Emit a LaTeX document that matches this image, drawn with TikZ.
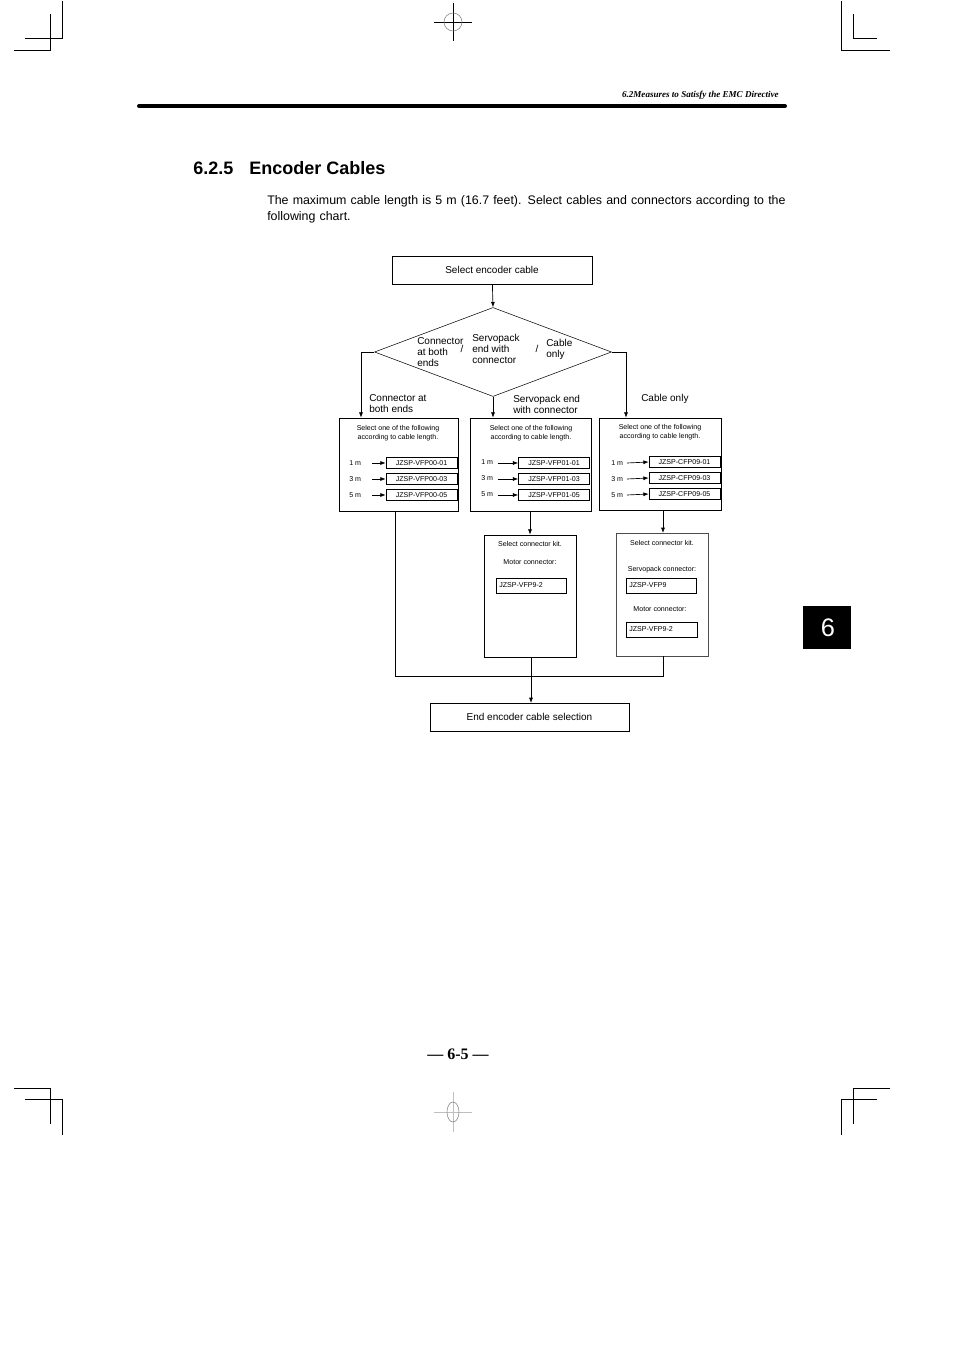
\documentclass[tikz,border=0pt]{standalone}
\usepackage{fontspec}
\setmainfont{Liberation Serif}
\newfontfamily\helv{Liberation Sans}
\usetikzlibrary{positioning,shapes.geometric,arrows.meta}
\begin{document}
\begin{tikzpicture}[
        x=0.75pt, y=-0.75pt,
        box/.style={rectangle, draw, inner sep=0pt, font=\helv\fontsize{7.5}{9}\selectfont},
        part/.style={rectangle, draw, inner sep=0pt, minimum width=71*0.75pt, minimum height=11*0.75pt, font=\helv\fontsize{5.3}{6}\selectfont},
        small/.style={inner sep=0pt, align=center, font=\helv\fontsize{5.3}{7}\selectfont},
        lbl/.style={inner sep=0pt, align=left, font=\helv\fontsize{7.5}{8.3}\selectfont},
        arrow/.style={-{Latex[length=4pt,width=3pt]}, line width=0.5pt},
        crop/.style={line width=0.6pt}
    ]
    \useasboundingbox (0,0) rectangle (954,1351);

    % Crop marks
    \draw[crop] (62,1) -- (62,38) -- (25,38);
    \draw[crop] (50,14) -- (50,50) -- (14,50);
    \draw[crop] (841,1) -- (841,50) -- (890,50);
    \draw[crop] (853,14) -- (853,38) -- (877,38);
    \draw[crop] (14,1088) -- (50,1088) -- (50,1124);
    \draw[crop] (25,1099) -- (62,1099) -- (62,1135);
    \draw[crop] (890,1088) -- (853,1088) -- (853,1124);
    \draw[crop] (877,1099) -- (841,1099) -- (841,1135);
    \draw[crop] (434,22) -- (472,22) (453,3) -- (453,41);
    \draw[gray, line width=0.4pt] (453,22) circle[radius=9];
    \draw[gray!50, line width=0.5pt] (434,1112) -- (472,1112) (453,1092) -- (453,1132);
    \draw[gray, line width=0.4pt] (453,1112) ellipse[x radius=6, y radius=10];

    % Header
    \draw[line width=3pt, line cap=round] (139,106) -- (785,106);
    \node[anchor=base east, inner sep=0pt, font=\bfseries\itshape\fontsize{6.8}{8}\selectfont] (head) at (779,98) {6.2Measures to Satisfy the EMC Directive};
    \node[anchor=base west, inner sep=0pt, font=\helv\bfseries\fontsize{13.5}{16}\selectfont] (title) at (193,175) {6.2.5\hspace{12pt}Encoder Cables};
    \node[anchor=north west, inner sep=0pt, text width=522*0.75pt, align=left, font=\helv\fontsize{9.3}{12}\selectfont] (intro) at (267,195)
        {The maximum cable length is 5 m (16.7 feet). Select cables and connectors according to the following chart.};

    % Flowchart
    \node[box, minimum width=200*0.75pt, minimum height=28*0.75pt] (start) at (492,270) {Select encoder cable};
    \node[diamond, draw, inner sep=0pt, minimum width=237*0.75pt, minimum height=89*0.75pt, aspect=2.66] (choice) at (493,352) {};
    \node[lbl, anchor=west] (dA) at (417,352) {Connector\\at both\\ends};
    \node[lbl, anchor=west] (dB) at (472,349) {Servopack\\end with\\connector};
    \node[lbl, anchor=west] (dC) at (546,349) {Cable\\only};
    \node[lbl] (s1) at (462,349) {/};
    \node[lbl] (s2) at (537,349) {/};

    \node[box, minimum width=119*0.75pt, minimum height=93*0.75pt] (lenA) at (398.5,464.5) {};
    \node[box, minimum width=121*0.75pt, minimum height=93*0.75pt] (lenB) at (530.5,464.5) {};
    \node[box, minimum width=122*0.75pt, minimum height=92*0.75pt] (lenC) at (660,464) {};

    \node[lbl, anchor=west] (tA) at (369,404) {Connector at\\both ends};
    \node[lbl, anchor=west] (tB) at (513,404) {Servopack end\\with connector};
    \node[lbl, anchor=west] (tC) at (641,399) {Cable only};

    \coordinate (cL) at (361,352);
    \coordinate (cR) at (626,352);
    \draw[arrow] (start) -- (choice.north);
    \draw[arrow] (choice.west) -- (cL) -- (cL |- lenA.north);
    \draw[arrow] (choice.south) -- (lenB.north -| choice.south);
    \draw[arrow] (choice.east) -- (cR) -- (cR |- lenC.north);

    % Length tables
    \node[small] at (398,433) {Select one of the following\\according to cable length.};
    \node[small] at (531,433) {Select one of the following\\according to cable length.};
    \node[small] at (660,432) {Select one of the following\\according to cable length.};
    \foreach \y/\m/\n in {463/1/01, 479/3/03, 495/5/05} {
        \node[part] (pA\n) at (421.5,\y) {JZSP-VFP00-\n};
        \node[small, anchor=west] (mA\n) at (349,\y) {\m{} m};
        \draw[arrow] (372,\y) -- (pA\n.west);
        \node[part] (pB\n) at (554,\y) {JZSP-VFP01-\n};
        \node[small, anchor=west] (mB\n) at (481,\y-1) {\m{} m};
        \draw[arrow] (498,\y) -- (pB\n.west);
        \node[part] (pC\n) at (684.5,\y-1) {JZSP-CFP09-\n};
        \node[small, anchor=west] (mC\n) at (611,\y) {\m{} m};
        \draw[arrow] (627,\y) -- (pC\n.west);
    }

    % Connector kits
    \node[box, minimum width=92*0.75pt, minimum height=122*0.75pt] (kitB) at (530,596) {};
    \node[box, minimum width=92*0.75pt, minimum height=123*0.75pt, draw=black!70] (kitC) at (662,594.5) {};
    \node[small] at (530,544) {Select connector kit.};
    \node[small] at (530,562) {Motor connector:};
    \node[part, anchor=west, minimum width=70*0.75pt, minimum height=15*0.75pt, text width=64*0.75pt, align=left] (kB) at (496,585.5) {JZSP-VFP9-2};
    \node[small] at (662,543) {Select connector kit.};
    \node[small] at (662,570) {Servopack connector:};
    \node[part, anchor=west, minimum width=70*0.75pt, minimum height=15*0.75pt, text width=64*0.75pt, align=left] (kC1) at (626,585.5) {JZSP-VFP9};
    \node[small] at (660,609) {Motor connector:};
    \node[part, anchor=west, minimum width=71*0.75pt, minimum height=15*0.75pt, text width=65*0.75pt, align=left] (kC2) at (626,629.5) {JZSP-VFP9-2};

    \draw[arrow] (lenB.south -| kitB.north) -- (kitB.north);
    \draw[arrow] (lenC.south -| 663,0) -- (663,533);

    % End
    \node[box, minimum width=199*0.75pt, minimum height=28*0.75pt] (finish) at (529.5,717) {End encoder cable selection};
    \coordinate (jA) at (395,676);
    \coordinate (jC) at (663,676);
    \draw[line width=0.5pt] (lenA.south -| jA) -- (jA) -- (jC) -- (kitC.south -| jC);
    \draw[arrow] (kitB.south -| 531,0) -- (531,703);

    % Page number and tab
    \node[inner sep=0pt, font=\bfseries\fontsize{12}{14}\selectfont] (pageno) at (458,1054) {--- 6-5 ---};
    \fill (803,606) rectangle (851,649);
    \node[text=white, inner sep=0pt, font=\helv\fontsize{19}{22}\selectfont] (tab) at (828,628) {6};
\end{tikzpicture}
\end{document}
